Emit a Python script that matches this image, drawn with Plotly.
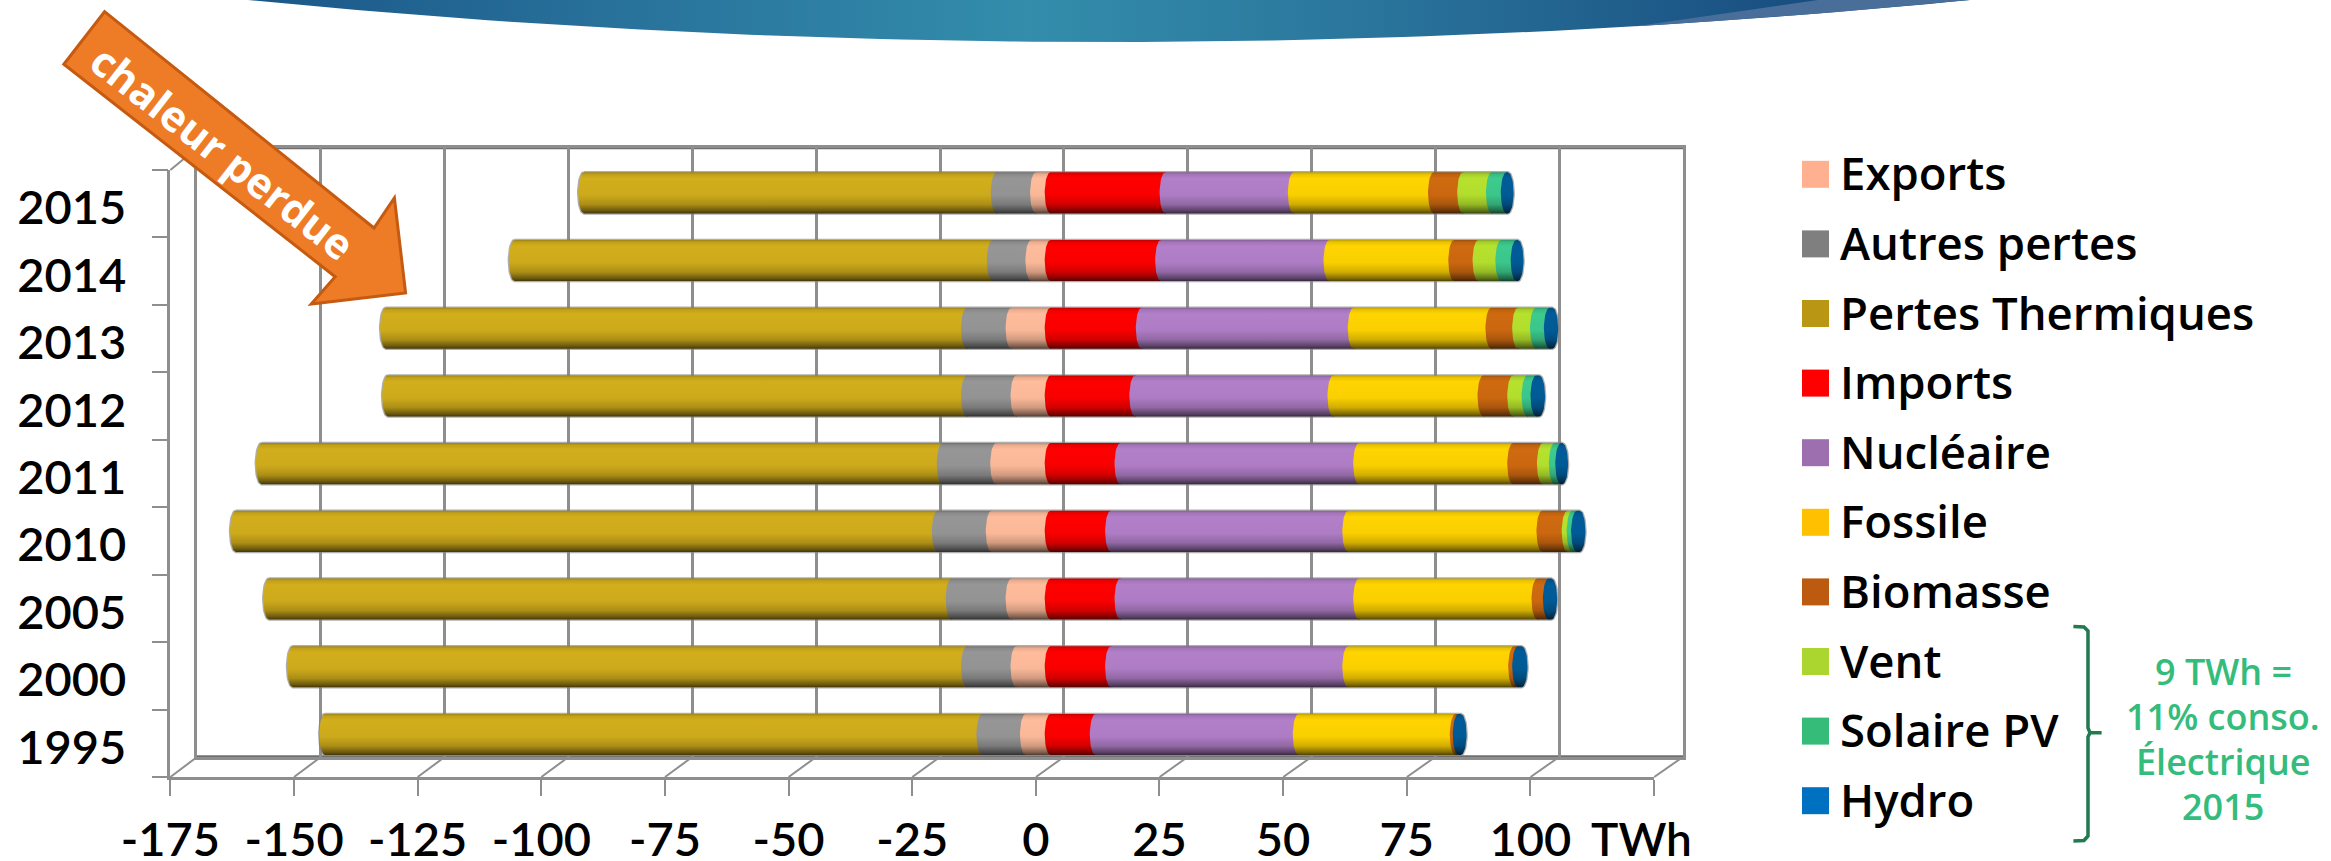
import numpy as np
import plotly.graph_objects as go

WIDTH, HEIGHT = 2331, 861

YEARS = ["1995", "2000", "2005", "2010", "2011", "2012", "2013", "2014", "2015"]

# TWh per year, oldest first. Losses and exports stack to the left of zero.
exports = [5.0, 6.9, 7.9, 11.9, 11.0, 6.9, 7.9, 3.9, 2.95]
autres_pertes = [8.8, 10.0, 12.1, 10.9, 10.8, 10.0, 9.0, 7.8, 7.95]
pertes_thermiques = [132.7, 136.1, 137.8, 141.7, 137.5, 116.9, 117.3, 96.5, 83.3]
# Supply stacks to the right of zero.
imports = [9.1, 12.2, 14.1, 12.2, 14.1, 17.1, 18.4, 22.3, 23.2]
nucleaire = [41.0, 47.9, 48.2, 47.9, 48.2, 40.0, 42.8, 34.0, 25.9]
fossile = [31.7, 33.5, 36.0, 39.2, 31.1, 30.3, 27.8, 25.2, 28.3]
biomasse = [0.6, 0.8, 2.3, 5.1, 6.0, 6.0, 5.4, 4.9, 5.9]
vent = [0.0, 0.0, 0.0, 1.0, 2.4, 2.9, 3.6, 4.6, 5.8]
solaire = [0.0, 0.0, 0.0, 0.9, 1.3, 1.8, 2.8, 3.1, 3.0]
hydro = [0.45, 0.75, 0.55, 0.55, 0.25, 0.6, 0.55, 0.25, 0.25]

X_TICKS = [-175, -150, -125, -100, -75, -50, -25, 0, 25, 50, 75, 100, 125]
X_LABELS = ["-175", "-150", "-125", "-100", "-75", "-50", "-25", "0", "25", "50", "75", "100", ""]

NEGATIVE = [("Pertes Thermiques", pertes_thermiques, "#D2AE1C"),
            ("Autres pertes", autres_pertes, "#969696"),
            ("Exports", exports, "#FFBC9C")]
POSITIVE = [("Imports", imports, "#FF0000"),
            ("Nucléaire", nucleaire, "#B27FC9"),
            ("Fossile", fossile, "#FFD400"),
            ("Biomasse", biomasse, "#CF6A10"),
            ("Vent", vent, "#B6E22E"),
            ("Solaire PV", solaire, "#3DCB8E"),
            ("Hydro", hydro, "#005C99")]

LEGEND_NAMES = ["Exports", "Autres pertes", "Pertes Thermiques", "Imports", "Nucléaire",
                "Fossile", "Biomasse", "Vent", "Solaire PV", "Hydro"]
LEGEND_COLORS = ["#FFB090", "#7F7F7F", "#B99715", "#FF0000", "#9E6FAF",
                 "#FFC000", "#BC5A10", "#ABD52F", "#34BC78", "#0070C0"]
NOTE_LINES = ["9 TWh =", "11% conso.", "Électrique", "2015"]

TICK_FONT = "Lato"
TEXT_FONT = "Open Sans"
GREY = "#8E8E8E"
DARK_GREY = "#6F6F6F"
GREEN = "#34BC7C"


def px(x, y):
    return x / WIDTH, 1 - y / HEIGHT


def domain(a, b, size):
    return [a / size, b / size]


def ydomain(top, bottom):
    return [1 - bottom / HEIGHT, 1 - top / HEIGHT]


def path(points, close=True):
    cmds = []
    for i, (x, y) in enumerate(points):
        u, v = px(x, y)
        cmds.append(("M" if i == 0 else "L") + f" {u:.5f} {v:.5f}")
    return " ".join(cmds) + (" Z" if close else "")


def line_shape(x0, y0, x1, y1, color=GREY, width=2):
    u0, v0 = px(x0, y0)
    u1, v1 = px(x1, y1)
    return dict(type="line", xref="paper", yref="paper", x0=u0, y0=v0, x1=u1, y1=v1,
                line=dict(color=color, width=width), layer="below")


def shade(hex_color):
    """Vertical colour ramp giving a segment its cylinder look, top to bottom."""
    r, g, b = (int(hex_color[i:i + 2], 16) for i in (1, 3, 5))
    stops = [(0.0, 0.75), (0.05, 0.92), (0.15, 1.0), (0.55, 0.98), (0.78, 0.82), (0.93, 0.52), (1.0, 0.32)]
    return [[p, f"rgb({int(r * k)},{int(g * k)},{int(b * k)})"] for p, k in stops]


fig = go.Figure()

# Back wall of the 3D box: vertical gridlines.
fig.add_trace(go.Scatter(x=[0], y=[0], xaxis="x", yaxis="y", mode="markers",
                         marker=dict(opacity=0), hoverinfo="skip", showlegend=False))
# Front plane: carries the value ticks and the year labels.
fig.add_trace(go.Scatter(x=[0] * len(YEARS), y=YEARS, xaxis="x2", yaxis="y2", mode="markers",
                         marker=dict(opacity=0), hoverinfo="skip", showlegend=False))

# Cylinder segments sit half way between the two planes.
BAR_HALF = 0.3035       # half bar height, in category units
CAP = 1.17              # horizontal radius of the end ellipse, in TWh
theta = np.linspace(np.pi / 2, 3 * np.pi / 2, 25)


def segment_outline(left, right, row):
    left_x = left + CAP * np.cos(theta)
    left_y = row + BAR_HALF * np.sin(theta)
    right_x = right - CAP * np.cos(theta[::-1])
    right_y = row + BAR_HALF * np.sin(theta[::-1])
    return (np.concatenate([left_x, right_x, left_x[:1]]).tolist(),
            np.concatenate([left_y, right_y, left_y[:1]]).tolist())


def add_segment(name, color, left, right, row):
    xs, ys = segment_outline(left, right, row)
    fig.add_trace(go.Scatter(
        x=xs, y=ys, xaxis="x3", yaxis="y3", mode="lines", line=dict(width=0),
        fill="toself", fillcolor=color,
        fillgradient=dict(type="vertical", colorscale=shade(color),
                          start=row + BAR_HALF, stop=row - BAR_HALF),
        name=name, hoverinfo="name+x", showlegend=False))


for row, year in enumerate(YEARS):
    end = -sum(values[row] for _, values, _ in NEGATIVE)
    top = sum(values[row] for _, values, _ in POSITIVE)
    # Faint silhouette behind the whole stack.
    xs, ys = segment_outline(end, top, row)
    fig.add_trace(go.Scatter(x=xs, y=ys, xaxis="x3", yaxis="y3", mode="lines",
                             line=dict(color="rgba(130,130,130,0.65)", width=2.5),
                             hoverinfo="skip", showlegend=False))
    # Left-hand stack, outermost first so each segment overlaps the previous one.
    for name, values, color in NEGATIVE:
        add_segment(name, color, end, end + values[row], row)
        end += values[row]
    # Right-hand stack from zero outwards.
    start = 0.0
    for name, values, color in POSITIVE:
        if values[row] > 0:
            add_segment(name, color, start, start + values[row], row)
            start += values[row]

# Curved header band along the top edge.
band_x = np.linspace(248, 1970, 80)
band_y = 42 * (1 - ((band_x - 1109) / 861) ** 2)
fig.add_trace(go.Scatter(
    x=band_x.tolist(), y=band_y.tolist(), xaxis="x4", yaxis="y4", mode="lines", line=dict(width=0),
    fill="toself", fillcolor="#2F86A8",
    fillgradient=dict(type="horizontal", start=248, stop=1810,
                      colorscale=[[0, "#1B5788"], [0.22, "#27709A"], [0.5, "#338DAB"],
                                  [0.72, "#2A759C"], [1, "#184D80"]]),
    hoverinfo="skip", showlegend=False))
sliver_x = np.linspace(1636, 1970, 30)
sliver_y = 42 * (1 - ((sliver_x - 1109) / 861) ** 2)
fig.add_trace(go.Scatter(
    x=[1818] + sliver_x[::-1].tolist(), y=[0] + sliver_y[::-1].tolist(),
    xaxis="x4", yaxis="y4", mode="lines", line=dict(width=0),
    fill="toself", fillcolor="#4A6E9A", hoverinfo="skip", showlegend=False))

shapes = []

# Floor and side of the box join the front and back planes.
BACK_X = lambda v: 197 + (v + 175) * 4.953
FRONT_X = lambda v: 170.4 + (v + 175) * 4.946
for v in X_TICKS:
    shapes.append(line_shape(FRONT_X(v), 777, BACK_X(v), 757))
shapes.append(line_shape(170.4, 170, 197, 148))
shapes.append(line_shape(197, 757, 1683, 757, DARK_GREY, 3.5))
shapes.append(line_shape(197, 148, 1683, 148, DARK_GREY, 2.5))

# Hand-placed legend swatches and the bracket around the renewables.
LEGEND_TOP = 174.3
LEGEND_STEP = 69.6
annotations = []
for i, (label, color) in enumerate(zip(LEGEND_NAMES, LEGEND_COLORS)):
    yc = LEGEND_TOP + i * LEGEND_STEP
    shapes.append(dict(type="path", xref="paper", yref="paper", line=dict(width=0), fillcolor=color,
                       path=path([(1802, yc - 13.5), (1829, yc - 13.5), (1829, yc + 13.5), (1802, yc + 13.5)])))
    u, v = px(1838, yc - 2)
    annotations.append(dict(x=u, y=v, xref="paper", yref="paper", text=label, showarrow=False,
                            xanchor="left", yanchor="middle",
                            font=dict(family=TEXT_FONT, size=45.5, color="#000000", weight=600)))

shapes.append(dict(type="path", xref="paper", yref="paper", line=dict(color="#217A50", width=3.5),
                   fillcolor="rgba(0,0,0,0)",
                   path=path([(2073.4, 626.5), (2084, 627), (2088, 631), (2088, 728), (2090, 732.8),
                              (2101.6, 732.8), (2090, 732.8), (2088, 737), (2088, 836), (2084, 840.5),
                              (2073.4, 841)], close=False)))

# Orange arrow pointing down the chart.
shapes.append(dict(type="path", xref="paper", yref="paper", layer="above",
                   line=dict(color="#C55A11", width=3), fillcolor="#EE7B26",
                   path=path([(104.6, 11.7), (374, 228), (394.4, 198), (405.6, 293),
                              (311.2, 304), (335.2, 276.7), (63.8, 64.3)])))
u, v = px(223, 151)
annotations.append(dict(x=u, y=v, xref="paper", yref="paper", text="chaleur perdue", showarrow=False,
                        textangle=37.8, xanchor="center", yanchor="middle",
                        font=dict(family=TEXT_FONT, size=42, color="#FFFFFF", weight=700)))

for i, line in enumerate(NOTE_LINES):
    u, v = px(2223, 671 + i * 45)
    annotations.append(dict(x=u, y=v, xref="paper", yref="paper", text=line, showarrow=False,
                            xanchor="center", yanchor="middle",
                            font=dict(family=TEXT_FONT, size=36, color=GREEN, weight=600)))

u, v = px(1641, 838)
annotations.append(dict(x=u, y=v, xref="paper", yref="paper", text="TWh", showarrow=False,
                        xanchor="center", yanchor="middle",
                        font=dict(family=TICK_FONT, size=46, color="#000000", weight=600)))

fig.update_layout(
    template="none",
    width=WIDTH, height=HEIGHT, margin=dict(l=0, r=0, t=0, b=0, autoexpand=False),
    paper_bgcolor="white", plot_bgcolor="rgba(0,0,0,0)", showlegend=False,
    shapes=shapes, annotations=annotations,
    xaxis=dict(domain=domain(197, 1683, WIDTH), range=[-175, 125], anchor="y", tickvals=X_TICKS,
               showgrid=True, gridcolor=GREY, gridwidth=2.5, showticklabels=False, zeroline=False,
               showline=True, linecolor=GREY, linewidth=2.5, mirror=True, ticks=""),
    yaxis=dict(domain=ydomain(148, 757), range=[0, 1], anchor="x", showgrid=False, showticklabels=False,
               zeroline=False, showline=True, linecolor=GREY, linewidth=2.5, mirror=True, ticks=""),
    xaxis2=dict(domain=domain(170.4, 1654, WIDTH), range=[-175, 125], anchor="y2", tickvals=X_TICKS,
                ticktext=X_LABELS, ticks="outside", ticklen=16, tickwidth=2, tickcolor=GREY,
                showgrid=False, zeroline=False, showline=True, linecolor=GREY, linewidth=2.5,
                ticklabelstandoff=4,
                tickfont=dict(family=TICK_FONT, size=47, color="#000000", weight=600)),
    yaxis2=dict(domain=ydomain(170, 777), type="category", categoryorder="array", categoryarray=YEARS,
                range=[-0.5, len(YEARS) - 0.5], anchor="x2", tickson="boundaries", ticks="outside",
                ticklen=16, tickwidth=2, tickcolor=GREY, showgrid=False, zeroline=False,
                showline=True, linecolor=GREY, linewidth=2.5, ticklabelstandoff=32, ticklabelshift=4,
                tickfont=dict(family=TICK_FONT, size=47, color="#000000", weight=600)),
    xaxis3=dict(domain=domain(183.9, 1669.5, WIDTH), range=[-175, 125], anchor="y3", visible=False),
    yaxis3=dict(domain=ydomain(159, 768.3), range=[-0.5, len(YEARS) - 0.5], anchor="x3", visible=False),
    xaxis4=dict(domain=[0, 1], range=[0, WIDTH], anchor="y4", visible=False),
    yaxis4=dict(domain=[0, 1], range=[HEIGHT, 0], anchor="x4", visible=False),
)

fig.write_html("out.html", config={"displayModeBar": False})
